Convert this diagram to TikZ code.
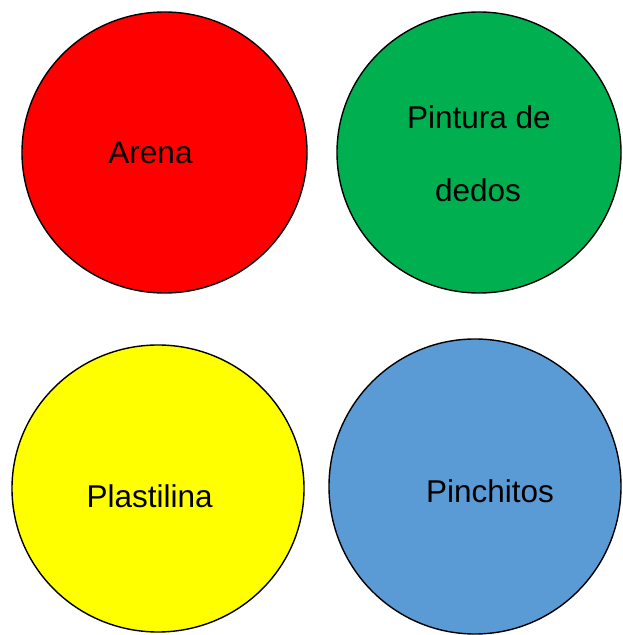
\documentclass[tikz,border=0pt]{standalone}
\usepackage{fontspec}
\setmainfont{Liberation Sans}
\definecolor{cred}{HTML}{FF0000}
\definecolor{cgreen}{HTML}{00B050}
\definecolor{cyellow}{HTML}{FFFF00}
\definecolor{cblue}{HTML}{5B9BD5}
\begin{document}
\begin{tikzpicture}[x=1pt,y=1pt,
  blob/.style={draw=black,line width=1.4pt},
  lbl/.style={anchor=base,inner sep=0pt,font=\fontsize{31.5}{36}\selectfont}]
\useasboundingbox (0,0) rectangle (622,635);
\begin{scope}
\clip (0,0) rectangle (622,635);
\filldraw[blob,fill=cred] (164.5,482.5) ellipse [x radius=142.5,y radius=140.5];
\filldraw[blob,fill=cgreen] (479,482.5) ellipse [x radius=142,y radius=140.5];
\filldraw[blob,fill=cyellow] (158,146.5) ellipse [x radius=146,y radius=143.5];
\filldraw[blob,fill=cblue] (475,148.5) ellipse [x radius=146,y radius=147.5];
\end{scope}
\node[lbl] (arena) at (150.5,471.7) {Arena};
\node[lbl] (pint1) at (479,506) {Pintura de};
\node[lbl] (pint2) at (478,433.3) {dedos};
\node[lbl] (plast) at (149.7,127.7) {Plastilina};
\node[lbl] (pinch) at (490,132.7) {Pinchitos};
\end{tikzpicture}
\end{document}
